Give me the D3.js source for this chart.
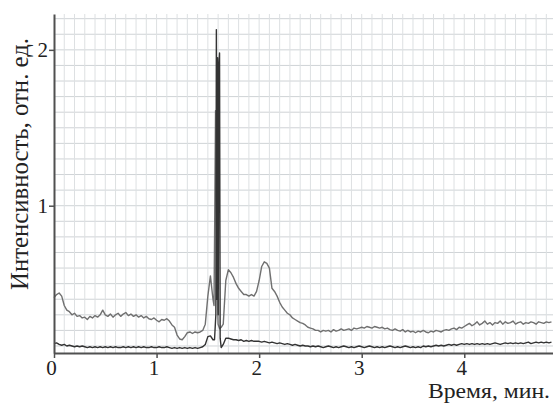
<!DOCTYPE html>
<html>
<head>
<meta charset="utf-8">
<script src="https://cdn.jsdelivr.net/npm/d3@7"></script>
<style>
  body { margin: 0; background: #fff; }
  svg { display: block; }
</style>
</head>
<body>
<svg id="chart"></svg>
<script>
/** Chart data */
var xTicks = [0, 1, 2, 3, 4];
var yTicks = [1, 2];
var xLabel = "Время, мин.";
var yLabel = "Интенсивность, отн. ед.";

// sampled every 0.025 min starting at 0; null = replaced by the spike points below
var step = 0.025;
var upperVals = [
  0.41, 0.43, 0.44, 0.42, 0.36, 0.33, 0.32, 0.30, 0.31, 0.29,
  0.295, 0.28, 0.285, 0.27, 0.29, 0.28, 0.295, 0.285, 0.30, 0.33,
  0.30, 0.29, 0.305, 0.285, 0.30, 0.31, 0.29, 0.305, 0.315, 0.295,
  0.305, 0.29, 0.30, 0.285, 0.295, 0.28, 0.29, 0.275, 0.27, 0.28,
  0.265, 0.255, 0.27, 0.265, 0.275, 0.26, 0.235, 0.22, 0.17, 0.145,
  0.14, 0.16, 0.185, 0.19, 0.18, 0.19, 0.185, 0.19, 0.20, 0.24,
  0.42, 0.55, 0.40, null, null, null, 0.24, 0.52, 0.59, 0.57,
  0.54, 0.50, 0.47, 0.45, 0.43, 0.43, 0.42, 0.43, 0.42, 0.45,
  0.52, 0.61, 0.64, 0.63, 0.60, 0.47, 0.45, 0.42, 0.38, 0.35,
  0.33, 0.31, 0.30, 0.28, 0.27, 0.26, 0.25, 0.245, 0.235, 0.22,
  0.215, 0.21, 0.20, 0.20, 0.19, 0.20, 0.195, 0.20, 0.19, 0.205,
  0.195, 0.20, 0.21, 0.20, 0.205, 0.21, 0.20, 0.215, 0.21, 0.215,
  0.22, 0.215, 0.225, 0.22, 0.215, 0.225, 0.22, 0.215, 0.22, 0.21,
  0.215, 0.205, 0.20, 0.21, 0.20, 0.195, 0.205, 0.19, 0.20, 0.19,
  0.195, 0.185, 0.195, 0.19, 0.20, 0.19, 0.185, 0.195, 0.19, 0.20,
  0.195, 0.19, 0.20, 0.205, 0.20, 0.21, 0.215, 0.205, 0.22, 0.215,
  0.225, 0.235, 0.245, 0.23, 0.24, 0.255, 0.235, 0.245, 0.26, 0.24,
  0.25, 0.235, 0.25, 0.245, 0.26, 0.24, 0.255, 0.245, 0.25, 0.26,
  0.24, 0.25, 0.255, 0.24, 0.25, 0.245, 0.255, 0.25, 0.24, 0.255,
  0.25, 0.245, 0.255, 0.25, 0.255
];
var upperSpike = [[1.56, 0.36], [1.568, 1.0], [1.575, 1.61], [1.582, 1.1], [1.59, 0.5], [1.60, 0.24], [1.615, 0.21], [1.63, 0.22]];

var lowerVals = [
  0.115, 0.12, 0.11, 0.105, 0.11, 0.10, 0.105, 0.10, 0.095, 0.10,
  0.095, 0.10, 0.095, 0.09, 0.095, 0.09, 0.095, 0.09, 0.095, 0.09,
  0.095, 0.09, 0.095, 0.09, 0.095, 0.09, 0.09, 0.095, 0.09, 0.095,
  0.09, 0.095, 0.09, 0.095, 0.09, 0.095, 0.09, 0.09, 0.095, 0.09,
  0.09, 0.095, 0.09, 0.09, 0.095, 0.09, 0.085, 0.09, 0.085, 0.09,
  0.085, 0.09, 0.085, 0.09, 0.085, 0.09, 0.085, 0.09, 0.095, 0.11,
  0.16, 0.165, 0.14, null, null, null, 0.11, 0.15, 0.15, 0.145,
  0.14, 0.14, 0.135, 0.14, 0.13, 0.135, 0.13, 0.135, 0.13, 0.13,
  0.13, 0.125, 0.13, 0.125, 0.12, 0.125, 0.12, 0.115, 0.12, 0.115,
  0.11, 0.115, 0.11, 0.105, 0.11, 0.105, 0.10, 0.105, 0.10, 0.10,
  0.095, 0.10, 0.095, 0.10, 0.095, 0.09, 0.095, 0.10, 0.095, 0.09,
  0.095, 0.09, 0.095, 0.10, 0.095, 0.09, 0.095, 0.09, 0.095, 0.10,
  0.095, 0.09, 0.095, 0.10, 0.095, 0.09, 0.095, 0.09, 0.095, 0.09,
  0.095, 0.10, 0.095, 0.09, 0.095, 0.09, 0.095, 0.10, 0.095, 0.09,
  0.095, 0.09, 0.095, 0.09, 0.10, 0.095, 0.10, 0.095, 0.10, 0.105,
  0.10, 0.105, 0.10, 0.105, 0.11, 0.105, 0.11, 0.105, 0.11, 0.115,
  0.11, 0.115, 0.11, 0.115, 0.11, 0.115, 0.11, 0.115, 0.11, 0.115,
  0.11, 0.115, 0.12, 0.115, 0.11, 0.115, 0.12, 0.115, 0.12, 0.115,
  0.12, 0.115, 0.12, 0.115, 0.12, 0.125, 0.115, 0.12, 0.125, 0.12,
  0.125, 0.12, 0.125, 0.12, 0.125
];
var lowerSpike = [[1.565, 0.14], [1.578, 0.3], [1.583, 2.13], [1.589, 0.4], [1.595, 1.95], [1.601, 0.3], [1.607, 1.9], [1.614, 1.98], [1.62, 0.15], [1.63, 0.09]];

var serif = "Liberation Serif";

/** merge the regular samples with the spike points */
function buildSeries(vals, spike) {
  var arr = [];
  vals.forEach(function(v, i) {
    if (v !== null) arr.push({ t: i * step, v: v });
  });
  spike.forEach(function(p) { arr.push({ t: p[0], v: p[1] }); });
  arr.sort(function(a, b) { return a.t - b.t; });
  return arr;
}

var upper = buildSeries(upperVals, upperSpike);
var lower = buildSeries(lowerVals, lowerSpike);

var svgWidth = 553, svgHeight = 403;
var svg = d3.select("#chart").attr("width", svgWidth).attr("height", svgHeight);

var x = d3.scaleLinear().domain([0, 4.865]).range([54, 553]);
var y = d3.scaleLinear().domain([0.055, 2.23]).range([353, 14]);

// grid
var grid = svg.append("g");
grid.selectAll("line.gh")
  .data(d3.range(1, 23).map(function(k) { return k / 10; }))
  .enter().append("line")
  .attr("x1", 54).attr("x2", 553)
  .attr("y1", function(d) { return y(d); }).attr("y2", function(d) { return y(d); })
  .attr("stroke", "#cfd3d6").attr("stroke-width", 1);
grid.selectAll("line.gv")
  .data(d3.range(1, 49).map(function(k) { return k / 10; }))
  .enter().append("line")
  .attr("y1", 14).attr("y2", 353)
  .attr("x1", function(d) { return x(d); }).attr("x2", function(d) { return x(d); })
  .attr("stroke", "#dde0e2").attr("stroke-width", 1);

// lines
var line = d3.line()
  .x(function(d) { return x(d.t); })
  .y(function(d) { return y(d.v); });

svg.append("path")
  .datum(upper)
  .attr("fill", "none")
  .attr("stroke", "#707070")
  .attr("stroke-width", 1.4)
  .attr("stroke-linejoin", "round")
  .attr("d", line);

svg.append("path")
  .datum(lower)
  .attr("fill", "none")
  .attr("stroke", "#333")
  .attr("stroke-width", 1.4)
  .attr("stroke-linejoin", "round")
  .attr("d", line);

// axes
var xAxis = svg.append("g")
  .attr("transform", "translate(0,353)")
  .call(d3.axisBottom(x).tickValues(xTicks).tickSize(5).tickSizeOuter(0).tickFormat(d3.format("d")));
var yAxis = svg.append("g")
  .attr("transform", "translate(54,0)")
  .call(d3.axisLeft(y).tickValues(yTicks).tickSize(5).tickSizeOuter(0).tickFormat(d3.format("d")));

[xAxis, yAxis].forEach(function(a) {
  a.attr("font-family", serif).attr("font-size", 21);
  a.select(".domain").attr("stroke", "#505050").attr("stroke-width", 2);
  a.selectAll(".tick line").attr("stroke", "#505050").attr("stroke-width", 1.5);
  a.selectAll(".tick text").attr("fill", "#222");
});
xAxis.selectAll(".tick text").attr("y", 22).attr("dy", 0).attr("dx", -3);
yAxis.selectAll(".tick text").attr("x", -6);

// labels
svg.append("text")
  .attr("x", 550).attr("y", 398)
  .attr("text-anchor", "end")
  .attr("font-family", serif)
  .attr("font-size", 21)
  .attr("fill", "#222")
  .attr("textLength", 122)
  .attr("lengthAdjust", "spacingAndGlyphs")
  .text(xLabel);

svg.append("text")
  .attr("transform", "translate(28,164) rotate(-90)")
  .attr("text-anchor", "middle")
  .attr("font-family", serif)
  .attr("font-size", 25)
  .attr("fill", "#222")
  .attr("textLength", 252)
  .attr("lengthAdjust", "spacingAndGlyphs")
  .text(yLabel);
</script>
</body>
</html>
